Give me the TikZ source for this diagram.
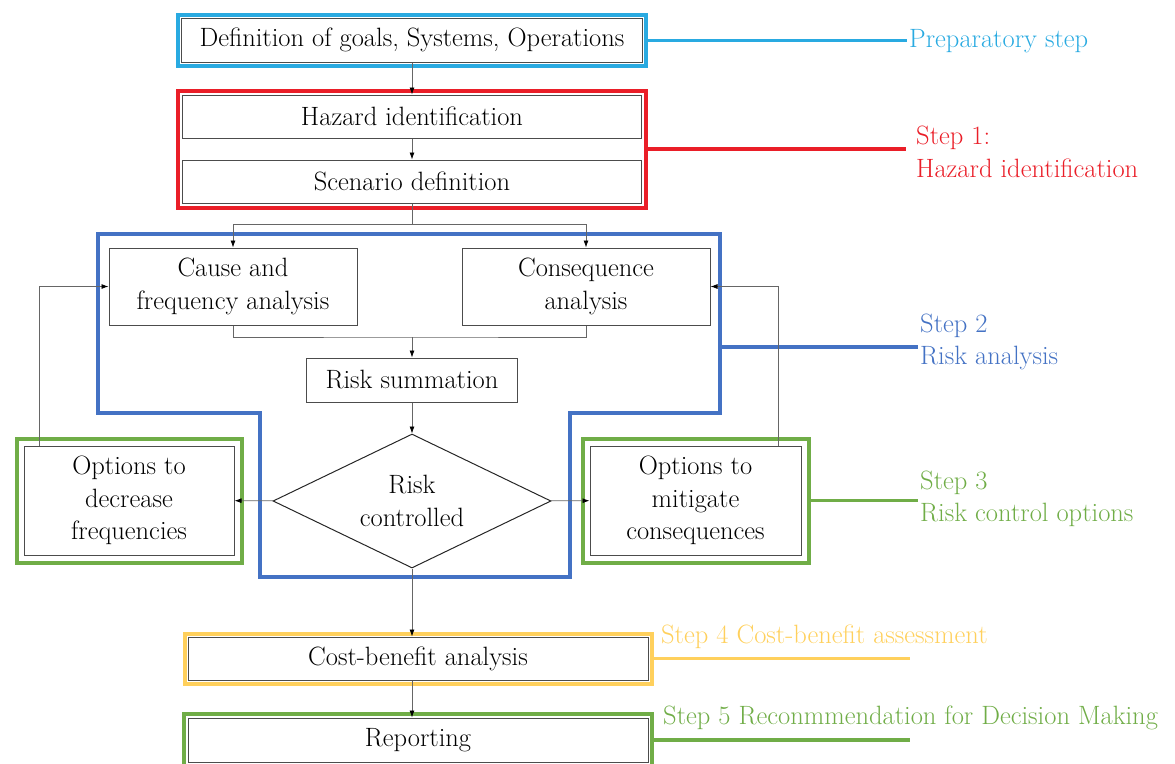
\documentclass[tikz,border=0pt]{standalone}
\usepackage{fontspec}
\usetikzlibrary{shapes.geometric, arrows.meta, fit}

\definecolor{prep_color}{RGB}{41,170,225}
\definecolor{hazard_color}{RGB}{234,30,40}
\definecolor{risk_color}{RGB}{68,114,196}
\definecolor{control_color}{RGB}{112,173,71}
\definecolor{cost_color}{RGB}{255,208,92}

\begin{document}
\begin{tikzpicture}[x=1pt, y=-1pt, font=\fontsize{26.5}{32.5}\selectfont]
    \tikzstyle{box_style}=[rectangle, draw=black!70, line width=1pt, inner sep=0pt, align=center]
    \tikzstyle{decision_style}=[diamond, draw=black!85, line width=1pt, inner sep=0pt, aspect=2.07, align=center]
    \tikzstyle{arrow_style}=[-{Latex[length=7pt,width=5pt,color=black]}, draw=black!60, line width=0.8pt]
    \tikzstyle{line_style}=[-, draw=black!60, line width=0.8pt]
    \tikzstyle{frame_style}=[rectangle, line width=4pt, inner sep=4pt]
    \tikzstyle{label_style}=[anchor=west, align=left, inner sep=2pt]

    \useasboundingbox (0,0) rectangle (1175,763);
    \clip (0,0) rectangle (1175,763);

    % preparatory step
    \draw node at (412, 40) [box_style, minimum width=461, minimum height=44] (goals) {Definition of goals, Systems, Operations};

    % step 1
    \draw node at (412, 116.5) [box_style, minimum width=459, minimum height=43] (hazard) {Hazard identification};
    \draw node at (412, 181.5) [box_style, minimum width=459, minimum height=43] (scenario) {Scenario definition};

    % step 2
    \draw node at (233, 286.5) [box_style, minimum width=248, minimum height=77] (cause) {Cause and\\frequency analysis};
    \draw node at (586, 286.5) [box_style, minimum width=248, minimum height=77] (consequence) {Consequence\\analysis};
    \draw node at (412, 380) [box_style, minimum width=211, minimum height=44] (summation) {Risk summation};
    \draw node at (412, 501) [decision_style, minimum width=278, minimum height=134] (controlled) {Risk\\controlled};

    % step 3
    \draw node at (129, 500.5) [box_style, minimum width=210, minimum height=109] (decrease) {Options to\\decrease\\frequencies};
    \draw node at (695.5, 500.5) [box_style, minimum width=211, minimum height=109] (mitigate) {Options to\\mitigate\\consequences};

    % step 4, step 5
    \draw node at (418, 658.5) [box_style, minimum width=460, minimum height=43] (cost) {Cost-benefit analysis};
    \draw node at (418, 740) [box_style, minimum width=460, minimum height=44] (reporting) {Reporting};

    % frames
    \node [frame_style, draw=prep_color, inner sep=3pt, fit=(goals)] (goals_frame) {};
    \node [frame_style, draw=hazard_color, fit=(hazard) (scenario)] (hazard_frame) {};
    \draw [risk_color, line width=3.5pt, line join=miter]
      (98, 234) -- (720, 234) -- (720, 413) -- (570, 413) -- (570, 577)
      -- (260, 577) -- (260, 413) -- (98, 413) -- cycle;
    \node [frame_style, draw=control_color, inner sep=7pt, fit=(decrease)] (decrease_frame) {};
    \node [frame_style, draw=control_color, inner sep=7pt, fit=(mitigate)] (mitigate_frame) {};
    \node [frame_style, draw=cost_color, inner sep=3pt, fit=(cost)] (cost_frame) {};
    \node [frame_style, draw=control_color, inner sep=3.5pt, fit=(reporting)] (reporting_frame) {};

    % step labels
    \node at (907, 41) [label_style, text=prep_color] (prep_label) {Preparatory step};
    \node at (914, 152) [label_style, text=hazard_color] (step1_label) {Step 1:\\Hazard identification};
    \node at (918, 342) [label_style, text=risk_color] (step2_label) {Step 2\\Risk analysis};
    \node at (918, 499) [label_style, text=control_color] (step3_label) {Step 3\\Risk control options};
    \node at (659, 637) [label_style, text=cost_color] (step4_label) {Step 4 Cost-benefit assessment};
    \node at (661, 718) [label_style, text=control_color] (step5_label) {Step 5 Reconmmendation for Decision Making};
    \coordinate (risk_edge) at (720, 347);
    \coordinate (cost_end) at (910, 656);
    \coordinate (reporting_end) at (910, 740);

    % connect: frames -> step labels
    \draw [prep_color, line width=3pt] (goals_frame.east) -- (goals_frame.east -| prep_label.west);
    \draw [hazard_color, line width=3.5pt] (hazard_frame.east) -- ++(258, 0);
    \draw [risk_color, line width=3.5pt] (risk_edge) -- (risk_edge -| step2_label.west);
    \draw [control_color, line width=3.5pt] (mitigate_frame.east) -- (mitigate_frame.east -| step3_label.west);
    \draw [cost_color, line width=3.5pt] (cost_frame.east) -- (cost_frame.east -| cost_end);
    \draw [control_color, line width=3.5pt] (reporting_frame.east) -- (reporting_frame.east -| reporting_end);

    % connect: preparatory -> step 1
    \draw[arrow_style] (goals) -- (hazard);
    \draw[arrow_style] (hazard) -- (scenario);

    % connect: scenario -> analyses
    \draw[line_style] (scenario.south) -- ++(0, 21) coordinate (split);
    \draw[arrow_style] (split) -| (cause.north);
    \draw[arrow_style] (split) -| (consequence.north);

    % connect: analyses -> summation -> decision
    \coordinate (merge) at (412, 337);
    \draw[line_style] (cause.south) |- (merge) -| (consequence.south);
    \draw[arrow_style] (merge) -- (summation.north);
    \draw[arrow_style] (summation) -- (controlled);

    % connect: decision -> options
    \draw[arrow_style] (controlled) -- (decrease);
    \draw[arrow_style] (controlled) -- (mitigate);

    % connect: options -> analyses (feedback)
    \draw[arrow_style] ([xshift=16pt]decrease.north west) |- (cause.west);
    \draw[arrow_style] ([xshift=-23pt]mitigate.north east) |- (consequence.east);

    % connect: decision -> cost -> reporting
    \draw[arrow_style] (controlled.south) -- (controlled.south |- cost.north);
    \draw[arrow_style] (cost.south -| controlled.south) -- (reporting.north -| controlled.south);
\end{tikzpicture}
\end{document}
